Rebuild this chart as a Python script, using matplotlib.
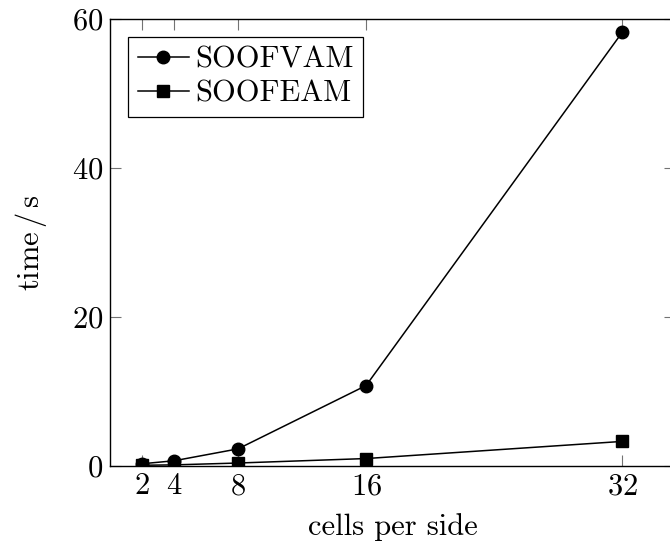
import matplotlib
matplotlib.use("Agg")
import matplotlib.pyplot as plt

# mesh sizes and run times
cells = [2, 4, 8, 16, 32]
soofvam = [0.3, 0.7, 2.3, 10.8, 58.2]
soofeam = [0.1, 0.15, 0.4, 1.0, 3.3]
xticks = [2, 4, 8, 16, 32]
yticks = [0, 20, 40, 60]

plt.rcParams["font.family"] = "cmr10"
plt.rcParams["mathtext.fontset"] = "cm"
plt.rcParams["axes.formatter.use_mathtext"] = True

fs = 22

fig = plt.figure(figsize=(6.7, 5.48), dpi=100)
ax = fig.add_axes([110 / 670, 82 / 548, 565 / 670, 447 / 548])

ax.plot(cells, soofvam, color="black", lw=1.1, marker="o", ms=9, label="SOOFVAM")
ax.plot(cells, soofeam, color="black", lw=1.1, marker="s", ms=8, label="SOOFEAM")

ax.set_xlim(0, 35.3)
ax.set_ylim(0, 60)
ax.set_xticks(xticks)
ax.set_yticks(yticks)
ax.tick_params(direction="in", length=8, width=0.8, color="0.45",
               top=True, right=True, labelsize=fs, pad=5)
for s in ax.spines.values():
    s.set_linewidth(1.0)

ax.set_xlabel("cells per side", fontsize=fs, labelpad=9)
ax.set_ylabel("time$\\,/\\,$s", fontsize=fs, labelpad=16)

leg = ax.legend(loc="upper left", fontsize=fs, fancybox=False, edgecolor="black",
                framealpha=1, handlelength=1.7, handletextpad=0.2,
                borderaxespad=0.6, labelspacing=0.2, borderpad=0.3)
leg.get_frame().set_linewidth(0.9)

fig.savefig("out.png", dpi=100)
